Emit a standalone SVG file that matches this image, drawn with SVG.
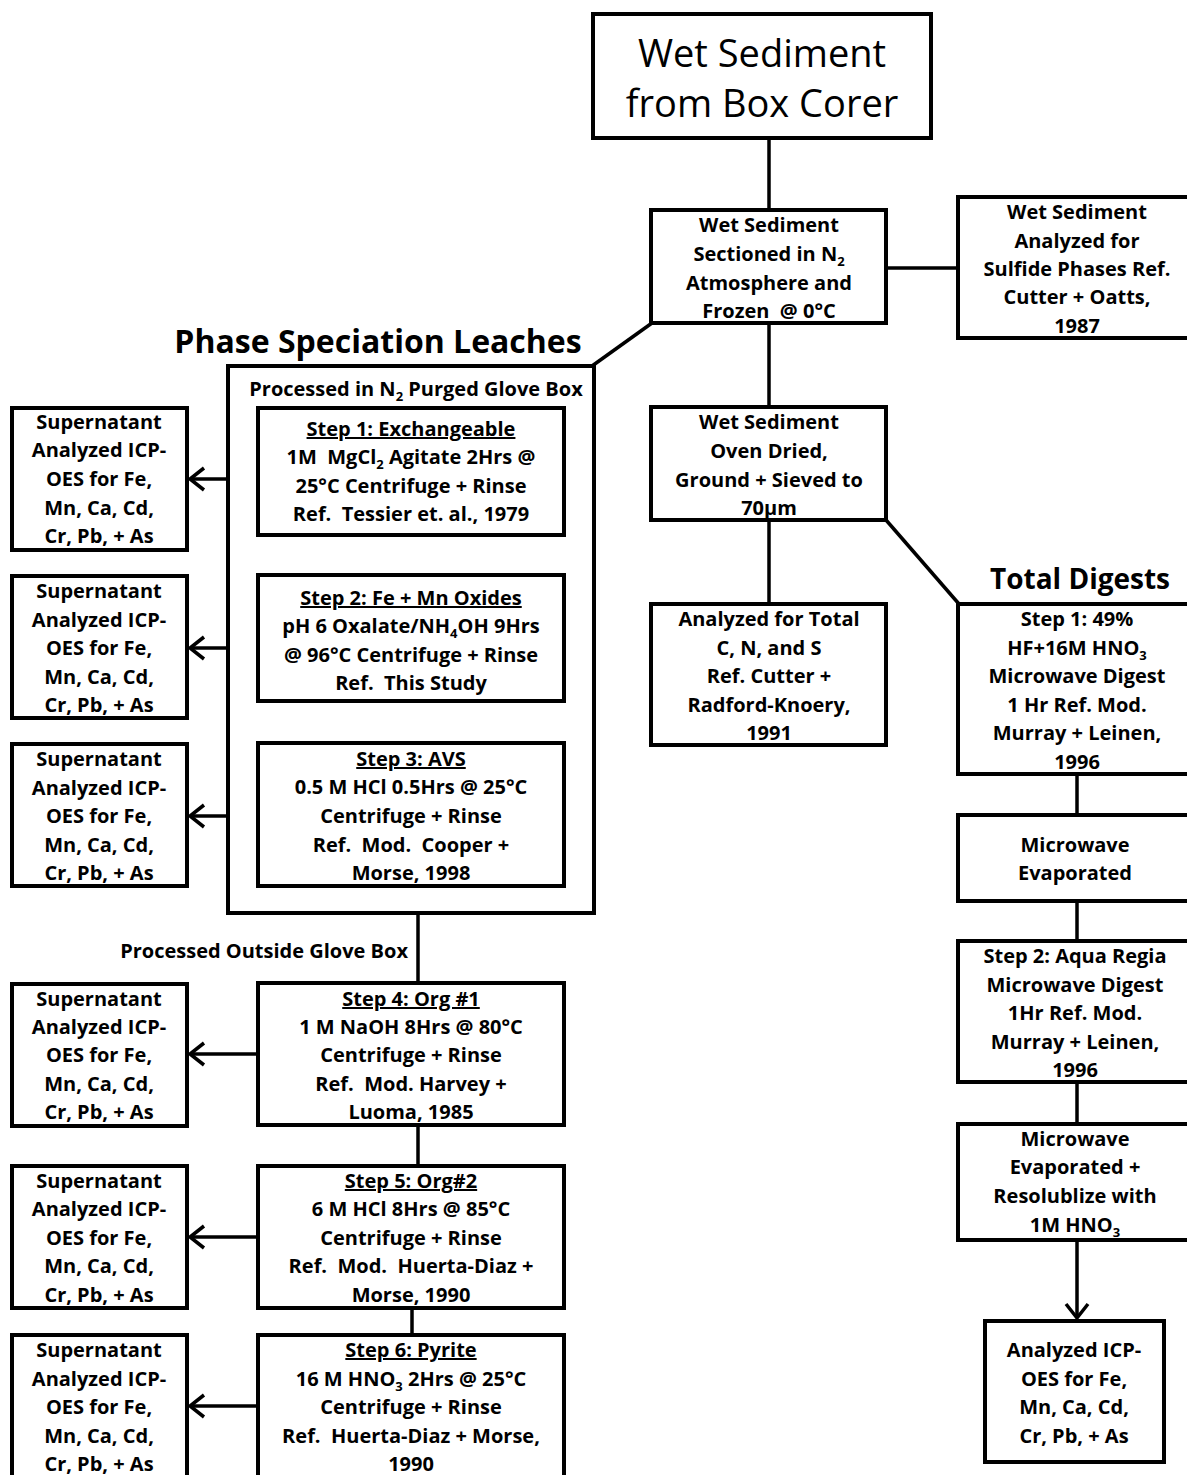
<svg xmlns="http://www.w3.org/2000/svg" width="1187" height="1475" viewBox="0 0 1187 1475">
<style>
.box{fill:#fff;stroke:#000;stroke-width:4}
.ln{stroke:#000;stroke-width:3.5;fill:none}
.ah{stroke:#000;stroke-width:3.5;fill:none;stroke-linejoin:miter}
text{font-family:"Open Sans","Liberation Sans",sans-serif;font-weight:bold;font-size:20px;text-anchor:middle;fill:#000;white-space:pre}
.big{font-weight:normal;font-size:38px}
.u{text-decoration:underline}
</style>
<rect width="1187" height="1475" fill="#fff"/>
<g id="connectors">
<line class="ln" x1="769" y1="138" x2="769" y2="210"/>
<line class="ln" x1="886" y1="268" x2="958" y2="268"/>
<line class="ln" x1="652" y1="323" x2="592" y2="366"/>
<line class="ln" x1="769" y1="323" x2="769" y2="407"/>
<line class="ln" x1="769" y1="520" x2="769" y2="604"/>
<line class="ln" x1="886" y1="520" x2="959" y2="604"/>
<line class="ln" x1="1077" y1="774" x2="1077" y2="815"/>
<line class="ln" x1="1077" y1="901" x2="1077" y2="941"/>
<line class="ln" x1="1077" y1="1082" x2="1077" y2="1124"/>
<line class="ln" x1="1077" y1="1240" x2="1077" y2="1318"/>
<polyline class="ah" points="1066,1304 1077,1318 1088,1304"/>
<line class="ln" x1="412" y1="535" x2="412" y2="575"/>
<line class="ln" x1="412" y1="701" x2="412" y2="743"/>
<line class="ln" x1="418" y1="913" x2="418" y2="983"/>
<line class="ln" x1="418" y1="1125" x2="418" y2="1166"/>
<line class="ln" x1="412" y1="1308" x2="412" y2="1335"/>
<line class="ln" x1="258" y1="479" x2="190" y2="479"/>
<polyline class="ah" points="204,468 190,479 204,490"/>
<line class="ln" x1="258" y1="648" x2="190" y2="648"/>
<polyline class="ah" points="204,637 190,648 204,659"/>
<line class="ln" x1="258" y1="816" x2="190" y2="816"/>
<polyline class="ah" points="204,805 190,816 204,827"/>
<line class="ln" x1="258" y1="1054" x2="190" y2="1054"/>
<polyline class="ah" points="204,1043 190,1054 204,1065"/>
<line class="ln" x1="258" y1="1237" x2="190" y2="1237"/>
<polyline class="ah" points="204,1226 190,1237 204,1248"/>
<line class="ln" x1="258" y1="1406" x2="190" y2="1406"/>
<polyline class="ah" points="204,1395 190,1406 204,1417"/>
</g>
<g id="top">
<rect class="box" x="593" y="14" width="338" height="124"/>
<text class="big" x="762" y="67">Wet Sediment</text>
<text class="big" x="762" y="117">from Box Corer</text>
</g>
<g id="sectioned">
<rect class="box" x="651" y="210" width="235" height="113"/>
<text x="769" y="232">Wet Sediment</text>
<text x="769" y="261">Sectioned in N<tspan font-size="13" dy="5">2</tspan></text>
<text x="769" y="290">Atmosphere and</text>
<text x="769" y="318">Frozen  @ 0°C</text>
</g>
<g id="sulfide">
<rect class="box" x="958" y="197" width="232" height="141"/>
<text x="1077" y="219">Wet Sediment</text>
<text x="1077" y="248">Analyzed for</text>
<text x="1077" y="276">Sulfide Phases Ref.</text>
<text x="1077" y="304">Cutter + Oatts,</text>
<text x="1077" y="333">1987</text>
</g>
<g id="dried">
<rect class="box" x="651" y="407" width="235" height="113"/>
<text x="769" y="429">Wet Sediment</text>
<text x="769" y="458">Oven Dried,</text>
<text x="769" y="487">Ground + Sieved to</text>
<text x="769" y="515">70µm</text>
</g>
<g id="cns">
<rect class="box" x="651" y="604" width="235" height="141"/>
<text x="769" y="626">Analyzed for Total</text>
<text x="769" y="655">C, N, and S</text>
<text x="769" y="683">Ref. Cutter +</text>
<text x="769" y="712">Radford-Knoery,</text>
<text x="769" y="740">1991</text>
</g>
<g id="total-digests-title">
<text x="1080" y="589" style="font-size:28px">Total Digests</text>
</g>
<g id="td-step1">
<rect class="box" x="958" y="604" width="232" height="170"/>
<text x="1077" y="626">Step 1: 49%</text>
<text x="1077" y="655">HF+16M HNO<tspan font-size="13" dy="5">3</tspan></text>
<text x="1077" y="683">Microwave Digest</text>
<text x="1077" y="712">1 Hr Ref. Mod.</text>
<text x="1077" y="740">Murray + Leinen,</text>
<text x="1077" y="769">1996</text>
</g>
<g id="td-evap1">
<rect class="box" x="958" y="815" width="232" height="86"/>
<text x="1075" y="852">Microwave</text>
<text x="1075" y="880">Evaporated</text>
</g>
<g id="td-step2">
<rect class="box" x="958" y="941" width="232" height="141"/>
<text x="1075" y="963">Step 2: Aqua Regia</text>
<text x="1075" y="992">Microwave Digest</text>
<text x="1075" y="1020">1Hr Ref. Mod.</text>
<text x="1075" y="1049">Murray + Leinen,</text>
<text x="1075" y="1077">1996</text>
</g>
<g id="td-evap2">
<rect class="box" x="958" y="1124" width="232" height="116"/>
<text x="1075" y="1146">Microwave</text>
<text x="1075" y="1174">Evaporated +</text>
<text x="1075" y="1203">Resolublize with</text>
<text x="1075" y="1232">1M HNO<tspan font-size="13" dy="5">3</tspan></text>
</g>
<g id="td-icp">
<rect class="box" x="985" y="1321" width="179" height="141"/>
<text x="1074" y="1357">Analyzed ICP-</text>
<text x="1074" y="1386">OES for Fe,</text>
<text x="1074" y="1414">Mn, Ca, Cd,</text>
<text x="1074" y="1443">Cr, Pb, + As</text>
</g>
<g id="phase-title">
<text x="378" y="353" style="font-size:32px">Phase Speciation Leaches</text>
</g>
<g id="glovebox">
<rect class="box" x="228" y="366" width="366" height="547" fill="none"/>
<text x="416" y="396">Processed in N<tspan font-size="13" dy="5">2</tspan><tspan dy="-5"> Purged Glove Box</tspan></text>
</g>
<g id="step1">
<rect class="box" x="258" y="408" width="306" height="127"/>
<text class="u" x="411" y="436">Step 1: Exchangeable</text>
<text x="411" y="464">1M  MgCl<tspan font-size="13" dy="5">2</tspan><tspan dy="-5"> Agitate 2Hrs @</tspan></text>
<text x="411" y="493">25°C Centrifuge + Rinse</text>
<text x="411" y="521">Ref.  Tessier et. al., 1979</text>
</g>
<g id="step2">
<rect class="box" x="258" y="575" width="306" height="126"/>
<text class="u" x="411" y="605">Step 2: Fe + Mn Oxides</text>
<text x="411" y="633">pH 6 Oxalate/NH<tspan font-size="13" dy="5">4</tspan><tspan dy="-5">OH 9Hrs</tspan></text>
<text x="411" y="662">@ 96°C Centrifuge + Rinse</text>
<text x="411" y="690">Ref.  This Study</text>
</g>
<g id="step3">
<rect class="box" x="258" y="743" width="306" height="143"/>
<text class="u" x="411" y="766">Step 3: AVS</text>
<text x="411" y="794">0.5 M HCl 0.5Hrs @ 25°C</text>
<text x="411" y="823">Centrifuge + Rinse</text>
<text x="411" y="852">Ref.  Mod.  Cooper +</text>
<text x="411" y="880">Morse, 1998</text>
</g>
<g id="outside-label">
<text x="408" y="958" style="text-anchor:end">Processed Outside Glove Box</text>
</g>
<g id="step4">
<rect class="box" x="258" y="983" width="306" height="142"/>
<text class="u" x="411" y="1006">Step 4: Org #1</text>
<text x="411" y="1034">1 M NaOH 8Hrs @ 80°C</text>
<text x="411" y="1062">Centrifuge + Rinse</text>
<text x="411" y="1091">Ref.  Mod. Harvey +</text>
<text x="411" y="1119">Luoma, 1985</text>
</g>
<g id="step5">
<rect class="box" x="258" y="1166" width="306" height="142"/>
<text class="u" x="411" y="1188">Step 5: Org#2</text>
<text x="411" y="1216">6 M HCl 8Hrs @ 85°C</text>
<text x="411" y="1245">Centrifuge + Rinse</text>
<text x="411" y="1273">Ref.  Mod.  Huerta-Diaz +</text>
<text x="411" y="1302">Morse, 1990</text>
</g>
<g id="step6">
<rect class="box" x="258" y="1335" width="306" height="142"/>
<text class="u" x="411" y="1357">Step 6: Pyrite</text>
<text x="411" y="1386">16 M HNO<tspan font-size="13" dy="5">3</tspan><tspan dy="-5"> 2Hrs @ 25°C</tspan></text>
<text x="411" y="1414">Centrifuge + Rinse</text>
<text x="411" y="1443">Ref.  Huerta-Diaz + Morse,</text>
<text x="411" y="1471">1990</text>
</g>
<g id="super1">
<rect class="box" x="12" y="408" width="175" height="142"/>
<text x="99" y="429">Supernatant</text>
<text x="99" y="457">Analyzed ICP-</text>
<text x="99" y="486">OES for Fe,</text>
<text x="99" y="515">Mn, Ca, Cd,</text>
<text x="99" y="543">Cr, Pb, + As</text>
</g>
<g id="super2">
<rect class="box" x="12" y="576" width="175" height="142"/>
<text x="99" y="598">Supernatant</text>
<text x="99" y="627">Analyzed ICP-</text>
<text x="99" y="655">OES for Fe,</text>
<text x="99" y="684">Mn, Ca, Cd,</text>
<text x="99" y="712">Cr, Pb, + As</text>
</g>
<g id="super3">
<rect class="box" x="12" y="744" width="175" height="142"/>
<text x="99" y="766">Supernatant</text>
<text x="99" y="795">Analyzed ICP-</text>
<text x="99" y="823">OES for Fe,</text>
<text x="99" y="852">Mn, Ca, Cd,</text>
<text x="99" y="880">Cr, Pb, + As</text>
</g>
<g id="super4">
<rect class="box" x="12" y="984" width="175" height="142"/>
<text x="99" y="1006">Supernatant</text>
<text x="99" y="1034">Analyzed ICP-</text>
<text x="99" y="1062">OES for Fe,</text>
<text x="99" y="1091">Mn, Ca, Cd,</text>
<text x="99" y="1119">Cr, Pb, + As</text>
</g>
<g id="super5">
<rect class="box" x="12" y="1166" width="175" height="142"/>
<text x="99" y="1188">Supernatant</text>
<text x="99" y="1216">Analyzed ICP-</text>
<text x="99" y="1245">OES for Fe,</text>
<text x="99" y="1273">Mn, Ca, Cd,</text>
<text x="99" y="1302">Cr, Pb, + As</text>
</g>
<g id="super6">
<rect class="box" x="12" y="1335" width="175" height="142"/>
<text x="99" y="1357">Supernatant</text>
<text x="99" y="1386">Analyzed ICP-</text>
<text x="99" y="1414">OES for Fe,</text>
<text x="99" y="1443">Mn, Ca, Cd,</text>
<text x="99" y="1471">Cr, Pb, + As</text>
</g>
</svg>
